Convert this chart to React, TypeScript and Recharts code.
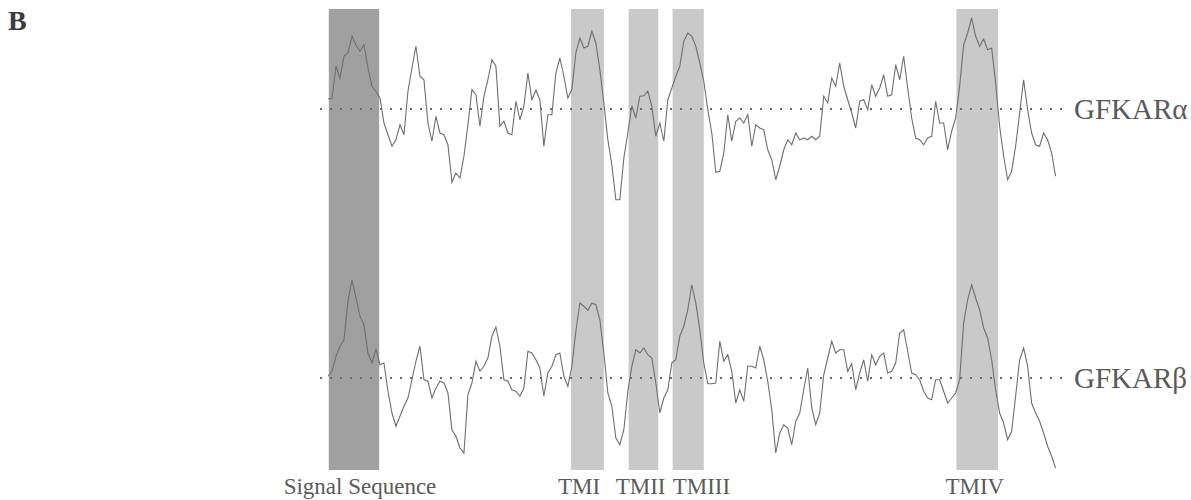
import React from 'react';
import { ComposedChart, Line, XAxis, YAxis, ReferenceArea, ReferenceLine } from 'recharts';

// hydropathy profiles, one value every STEP residues starting at FIRST_RESIDUE
const FIRST_RESIDUE = 10;
const STEP = 5;

const alphaHydropathy = [
  0.40, 0.43, 1.71, 1.24, 2.11, 2.24, 2.91, 2.57, 2.31, 2.57, 1.64, 0.91, 0.71, 0.44, -0.56, -1.03,
  -1.49, -1.23, -0.63, -1.03, 0.71, 1.64, 2.51, 1.31, 1.17, -0.56, -1.29, -0.29, -0.96, -1.03, -1.43, -2.93,
  -2.56, -2.76, -1.89, -0.63, 0.77, 0.57, -0.69, 0.51, 1.17, 1.97, 1.71, -0.69, -0.49, -0.96, -1.03, 0.31,
  -0.43, 0.11, 1.44, 0.37, 0.75, 0.37, -1.49, -0.23, -0.23, 1.44, 2.04, 1.31, 0.44, 0.77, 2.24, 2.84,
  2.44, 2.51,
  3.11, 2.64, 1.57, 0.24, -1.23, -2.23, -3.63, -3.63, -1.96, -0.96, 0.13, -0.36, 0.51, 0.53, 0.71, 0.11,
  -1.09, -0.56, -1.29, 0.37, 0.84, 1.31, 1.71, 2.71, 3.04, 2.91, 2.51, 1.84, 1.11, -0.03, -0.96, -2.53,
  -2.49, -1.76, -0.23, -1.29, -0.49, -0.36, -0.56, -0.23, -1.49, -0.63, -0.76, -0.83, -1.63, -2.03, -2.83, -2.29,
  -1.63, -1.23, -1.43, -0.96, -1.23, -1.16, -1.23, -1.09, -1.23, -1.09, 0.51, 0.24, 1.24, 0.91, 1.84, 0.91,
  0.37, -0.16, -0.76, 0.31, 0.37, -0.03, 0.97, 0.51,
  0.84, 1.37, 0.51, 0.57, 1.77, 1.17, 2.11, 0.84, -0.36, -1.16, -1.23, -1.43, -1.16, -1.09, 0.31, -0.56,
  -0.56, -1.63, -0.89, -0.36, 0.91, 2.57, 3.04, 3.64, 2.91, 2.51, 2.80, 2.37, 2.44, 1.04, -0.69, -1.89,
  -2.83, -2.49, -1.49, -0.16, 1.17, -0.03, -0.96, -1.43, -1.49, -0.96, -1.23, -1.76, -2.69,
];

const betaHydropathy = [
  0.07, 0.27, 0.87, 1.27, 1.53, 3.07, 3.93, 3.20, 2.47, 2.13, 1.00, 0.60, 1.16, 0.53, 0.60, -0.53,
  -1.40, -1.93, -1.53, -1.13, -0.80, -0.07, 0.67, 1.27, -0.07, -0.13, -0.80, -0.40, -0.13, -0.20, -0.60, -2.07,
  -2.33, -2.80, -3.00, -0.67, -0.20, 0.67, 0.27, 0.47, 0.80, 1.67, 2.04, 1.27, -0.07, -0.13, -0.47, -0.53,
  -0.73, -0.40, 1.07, 1.00, 0.73, 0.40, -0.73, 0.20, 0.47, 0.93, 1.00, 0.07, -0.33, 0.47, 1.87, 3.00,
  2.87, 2.71,
  3.00, 2.93, 2.33, 1.00, -0.60, -1.13, -2.40, -2.67, -2.07, -0.53, 0.47, 1.13, 1.00, 1.20, 0.93, 0.80,
  -0.20, -1.40, -0.80, -0.47, 0.60, 0.73, 1.67, 2.07, 2.73, 3.73, 3.00, 1.93, 0.60, -0.23, -0.23, -0.20,
  1.47, 0.67, 0.93, 0.27, -1.00, -0.47, -0.93, 0.47, 0.47, 0.40, 1.27, 0.73, -0.13, -1.27, -3.00, -2.20,
  -1.87, -2.00, -2.67, -1.73, -1.40, -0.47, 0.40, -1.20, -1.87, -1.40, 0.13, 0.80, 1.47, 1.00, 1.13, 1.13,
  0.27, 0.57, -0.47, 0.20, 0.73, -0.13, 0.93, 0.53,
  0.87, 1.00, 0.20, 0.27, 0.60, 1.80, 1.93, 1.07, 0.20, 0.13, -0.07, -0.53, -0.80, -0.87, -0.07, -0.07,
  -0.53, -1.00, -0.80, -0.60, -0.07, 2.20, 3.13, 3.73, 3.20, 2.73, 2.00, 1.60, 0.73, -0.47, -1.40, -1.80,
  -2.47, -2.13, -0.73, 0.73, 1.20, 0.47, -1.00, -1.40, -1.73, -2.20, -2.73, -3.13, -3.60,
];

// shaded segments (residue ranges)
const segments = [
  { name: 'signal', start: 11, end: 74 },
  { name: 'TMI', start: 314, end: 355 },
  { name: 'TMII', start: 386, end: 423 },
  { name: 'TMIII', start: 441, end: 480 },
  { name: 'TMIV', start: 796, end: 848 },
];

const regionLabels = ['Signal Sequence', 'TMI', 'TMII', 'TMIII', 'TMIV'];
const labelResidues = [50, 324, 401, 477, 819];

const serif = "'Liberation Serif', 'Times New Roman', serif";

const data = alphaHydropathy.map((a, i) => ({
  residue: FIRST_RESIDUE + i * STEP,
  alpha: a,
  beta: betaHydropathy[i],
}));

export default function App() {
  return (
    <div style={{ position: 'absolute', left: 0, top: 0, width: 1191, height: 500, background: '#fff' }}>
      <div
        style={{
          position: 'absolute', left: 8, top: 7, fontFamily: serif, fontWeight: 'bold',
          fontSize: 28, lineHeight: 1, color: '#3c3c3c',
        }}
      >
        B
      </div>
      <ComposedChart width={1191} height={500} data={data} margin={{ top: 9, right: 129, bottom: 0, left: 320 }}>
        <XAxis
          dataKey="residue"
          type="number"
          domain={[0, 928]}
          allowDataOverflow
          ticks={labelResidues}
          interval={0}
          tickFormatter={(v, i) => regionLabels[i]}
          axisLine={false}
          tickLine={false}
          height={30}
          tick={{ fontFamily: serif, fontSize: 23, fill: '#5a5a5a' }}
        />
        <YAxis yAxisId="alpha" hide type="number" domain={[-14.44, 4]} allowDataOverflow />
        <YAxis yAxisId="beta" hide type="number" domain={[-3.68, 14.76]} allowDataOverflow />
        {segments.map(s => (
          <ReferenceArea
            key={s.name}
            yAxisId="alpha"
            x1={s.start}
            x2={s.end}
            fill={s.name === 'signal' ? '#a0a0a0' : '#c9c9c9'}
            fillOpacity={1}
            stroke="none"
          />
        ))}
        <ReferenceLine
          yAxisId="alpha"
          y={0}
          stroke="#6a6a6a"
          strokeWidth={2}
          strokeDasharray="2 8"
          label={{ value: 'GFKARα', position: 'right', offset: 12, fill: '#5a5a5a', fontSize: 29, fontFamily: serif }}
        />
        <ReferenceLine
          yAxisId="beta"
          y={0}
          stroke="#6a6a6a"
          strokeWidth={2}
          strokeDasharray="2 8"
          label={{ value: 'GFKARβ', position: 'right', offset: 12, fill: '#5a5a5a', fontSize: 29, fontFamily: serif }}
        />
        <Line yAxisId="alpha" type="linear" dataKey="alpha" stroke="#6e6e6e" strokeWidth={1.1} dot={false} isAnimationActive={false} />
        <Line yAxisId="beta" type="linear" dataKey="beta" stroke="#6e6e6e" strokeWidth={1.1} dot={false} isAnimationActive={false} />
      </ComposedChart>
    </div>
  );
}
